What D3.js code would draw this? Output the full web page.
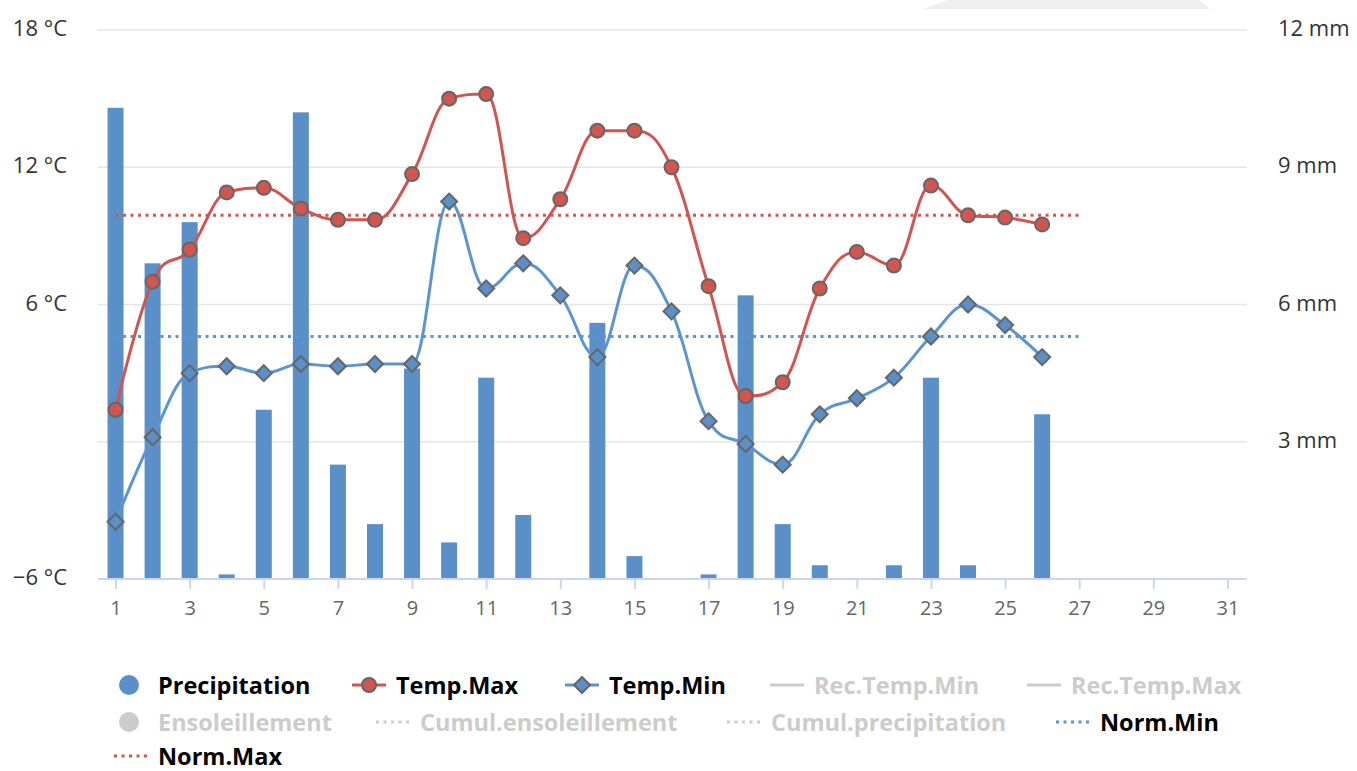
<!DOCTYPE html>
<html>
<head>
<meta charset="utf-8">
<script src="https://cdn.jsdelivr.net/npm/d3@7"></script>
<style>
  html, body { margin: 0; padding: 0; background: #fff; }
  svg { display: block; }
  text { font-family: "Open Sans", "DejaVu Sans", sans-serif; }
</style>
</head>
<body>
<svg id="chart" width="1357" height="771"></svg>
<script>
// ---------- DATA ----------
const days = [1,2,3,4,5,6,7,8,9,10,11,12,13,14,15,16,17,18,19,20,21,22,23,24,25,26,27,28,29,30,31];
const dataDays = [1,2,3,4,5,6,7,8,9,10,11,12,13,14,15,16,17,18,19,20,21,22,23,24,25,26];
const precipitation = [10.3, 6.9, 7.8, 0.1, 3.7, 10.2, 2.5, 1.2, 4.6, 0.8, 4.4, 1.4, 0, 5.6, 0.5, 0, 0.1, 6.2, 1.2, 0.3, 0, 0.3, 4.4, 0.3, 0, 3.6];
const tempMax = [1.4, 7.0, 8.4, 10.9, 11.1, 10.2, 9.7, 9.7, 11.7, 15.0, 15.2, 8.9, 10.6, 13.6, 13.6, 12.0, 6.8, 2.0, 2.6, 6.7, 8.3, 7.7, 11.2, 9.9, 9.8, 9.5];
const tempMin = [-3.5, 0.2, 3.0, 3.3, 3.0, 3.4, 3.3, 3.4, 3.4, 10.5, 6.7, 7.8, 6.4, 3.7, 7.7, 5.7, 0.9, -0.1, -1.0, 1.2, 1.9, 2.8, 4.6, 6.0, 5.1, 3.7];
const normDays = [1, 27];
const normMax = [9.9, 9.9];
const normMin = [4.6, 4.6];
const xTickDays = [1,3,5,7,9,11,13,15,17,19,21,23,25,27,29,31];
const tempTicks = [18, 12, 6, 0, -6];
const tempTickLabels = ["18 °C", "12 °C", "6 °C", "", "\u22126 °C"];
const precipTicks = [12, 9, 6, 3, 0];
const precipTickLabels = ["12 mm", "9 mm", "6 mm", "3 mm", ""];
const legendRows = [
  [ {name:"Precipitation", type:"circle", color:"#5b8fc7", active:true},
    {name:"Temp.Max", type:"lineCircle", color:"#cf5650", active:true},
    {name:"Temp.Min", type:"lineDiamond", color:"#5b94cf", active:true},
    {name:"Rec.Temp.Min", type:"line", color:"#cccccc", active:false},
    {name:"Rec.Temp.Max", type:"line", color:"#cccccc", active:false} ],
  [ {name:"Ensoleillement", type:"circle", color:"#cccccc", active:false},
    {name:"Cumul.ensoleillement", type:"dot", color:"#cccccc", active:false},
    {name:"Cumul.precipitation", type:"dot", color:"#cccccc", active:false},
    {name:"Norm.Min", type:"dot", color:"#5b94cf", active:true} ],
  [ {name:"Norm.Max", type:"dot", color:"#cf5650", active:true} ]
];
const legendX = [[114, 352, 565, 770, 1027], [114, 376, 727, 1056], [114]];

// ---------- LAYOUT ----------
const svg = d3.select("#chart");
const plotL = 98, plotR = 1247, plotT = 30, plotB = 579;

const x = d3.scaleLinear().domain([0.5, 31.5]).range([97, 1246]);
const yT = d3.scaleLinear().domain([-6, 18]).range([plotB, plotT]);
const yP = d3.scaleLinear().domain([0, 12]).range([plotB, plotT]);

// decorative tab at top
svg.append("path")
  .attr("d", "M923,9 L948,0 L1200,0 L1210,9 Z")
  .attr("fill", "#efefef");

// gridlines
svg.append("g").selectAll("line").data(tempTicks.filter(t => t > -6)).join("line")
  .attr("x1", plotL).attr("x2", plotR)
  .attr("y1", d => yT(d)).attr("y2", d => yT(d))
  .attr("stroke", "#e6e6e6").attr("stroke-width", 1.6);

// left axis labels
const leftAxis = d3.axisLeft(yT).tickValues(tempTicks).tickSize(0).tickPadding(0)
  .tickFormat((d, i) => tempTickLabels[i]);
const gL = svg.append("g").attr("transform", `translate(67,0)`).call(leftAxis);
gL.select(".domain").remove();
gL.selectAll("text").attr("font-size", 22).attr("fill", "#333").attr("dy", "0.25em")
  .style("font-family", '"Open Sans", sans-serif');

// right axis labels
const rightAxis = d3.axisRight(yP).tickValues(precipTicks).tickSize(0).tickPadding(0)
  .tickFormat((d, i) => precipTickLabels[i]);
const gR = svg.append("g").attr("transform", `translate(1278,0)`).call(rightAxis);
gR.select(".domain").remove();
gR.selectAll("text").attr("font-size", 22).attr("fill", "#333").attr("dy", "0.25em")
  .style("font-family", '"Open Sans", sans-serif');

// bars
const barW = 16;
svg.append("g").selectAll("rect").data(dataDays.map((d, i) => ({d, v: precipitation[i]})).filter(o => o.v > 0))
  .join("rect")
  .attr("x", o => x(o.d) - barW / 2)
  .attr("width", barW)
  .attr("y", o => yP(o.v))
  .attr("height", o => yP(0) - yP(o.v))
  .attr("fill", "#5b8fc7");

// x axis
const bottomAxis = d3.axisBottom(x).tickValues(xTickDays).tickSize(10).tickPadding(12)
  .tickFormat(d3.format("d"));
const gX = svg.append("g").attr("transform", `translate(0,${plotB})`).call(bottomAxis);
gX.select(".domain").attr("d", `M${plotL},0H${plotR}`).attr("stroke", "#ccd6eb").attr("stroke-width", 2);
gX.selectAll(".tick line").attr("stroke", "#ccd6eb").attr("stroke-width", 2);
gX.selectAll("text").attr("font-size", 20).attr("fill", "#666")
  .style("font-family", '"Open Sans", sans-serif');

// norm lines
function normLine(vals, color) {
  svg.append("path")
    .attr("d", d3.line().x((d, i) => x(normDays[i])).y(d => yT(d))(vals))
    .attr("fill", "none").attr("stroke", color).attr("stroke-width", 3)
    .attr("stroke-dasharray", "3,4.5");
}
normLine(normMin, "#5b94cf");
normLine(normMax, "#cf5650");

// Highcharts-style spline
function splinePath(pts) {
  const smoothing = 1.5, denom = smoothing + 1;
  const ctl = pts.map((p, i) => {
    if (i === 0 || i === pts.length - 1) return {lx: p[0], ly: p[1], rx: p[0], ry: p[1]};
    const [lastX, lastY] = pts[i - 1], [nextX, nextY] = pts[i + 1], [px, py] = p;
    let lx = (smoothing * px + lastX) / denom, ly = (smoothing * py + lastY) / denom;
    let rx = (smoothing * px + nextX) / denom, ry = (smoothing * py + nextY) / denom;
    if (rx !== lx) {
      const corr = ((ry - ly) * (rx - px)) / (rx - lx) + py - ry;
      ly += corr; ry += corr;
    }
    if (ly > lastY && ly > py) { ly = Math.max(lastY, py); ry = 2 * py - ly; }
    else if (ly < lastY && ly < py) { ly = Math.min(lastY, py); ry = 2 * py - ly; }
    if (ry > nextY && ry > py) { ry = Math.max(nextY, py); ly = 2 * py - ry; }
    else if (ry < nextY && ry < py) { ry = Math.min(nextY, py); ly = 2 * py - ry; }
    return {lx, ly, rx, ry};
  });
  const p = d3.path();
  p.moveTo(pts[0][0], pts[0][1]);
  for (let i = 1; i < pts.length; i++) {
    p.bezierCurveTo(ctl[i - 1].rx, ctl[i - 1].ry, ctl[i].lx, ctl[i].ly, pts[i][0], pts[i][1]);
  }
  return p.toString();
}

function tempSeries(vals, color, markerFill, shape) {
  const pts = vals.map((v, i) => [x(dataDays[i]), yT(v)]);
  svg.append("path").attr("d", splinePath(pts))
    .attr("fill", "none").attr("stroke", color).attr("stroke-width", 3)
    .attr("stroke-linejoin", "round").attr("stroke-linecap", "round");
  const g = svg.append("g");
  if (shape === "circle") {
    g.selectAll("circle").data(pts).join("circle")
      .attr("cx", d => d[0]).attr("cy", d => d[1]).attr("r", 7)
      .attr("fill", markerFill).attr("stroke", "#666").attr("stroke-width", 2);
  } else {
    g.selectAll("path").data(pts).join("path")
      .attr("d", d => `M${d[0]},${d[1] - 8}L${d[0] + 8},${d[1]}L${d[0]},${d[1] + 8}L${d[0] - 8},${d[1]}Z`)
      .attr("fill", markerFill).attr("stroke", "#666").attr("stroke-width", 2);
  }
}
tempSeries(tempMax, "#cf5650", "#d2564f", "circle");
tempSeries(tempMin, "#5b94cf", "#5b8fc7", "diamond");

// legend
const rowY = [685, 722, 756];
legendRows.forEach((row, r) => {
  row.forEach((it, k) => {
    const sx = legendX[r][k], cy = rowY[r];
    const g = svg.append("g");
    if (it.type === "circle") {
      g.append("circle").attr("cx", sx + 15).attr("cy", cy).attr("r", 10).attr("fill", it.color);
    } else {
      g.append("line").attr("x1", sx).attr("x2", sx + 34).attr("y1", cy).attr("y2", cy)
        .attr("stroke", it.color).attr("stroke-width", 3)
        .attr("stroke-dasharray", it.type === "dot" ? "3,4.5" : null);
      if (it.type === "lineCircle") {
        g.append("circle").attr("cx", sx + 17).attr("cy", cy).attr("r", 7)
          .attr("fill", "#d2564f").attr("stroke", "#666").attr("stroke-width", 2);
      } else if (it.type === "lineDiamond") {
        const c = sx + 17;
        g.append("path").attr("d", `M${c},${cy - 8}L${c + 8},${cy}L${c},${cy + 8}L${c - 8},${cy}Z`)
          .attr("fill", "#5b8fc7").attr("stroke", "#666").attr("stroke-width", 2);
      }
    }
    g.append("text").attr("x", sx + 44).attr("y", cy + 8.5)
      .attr("font-size", 23.5).attr("font-weight", "bold")
      .attr("fill", it.active ? "#000" : "#cccccc")
      .text(it.name);
  });
});
</script>
</body>
</html>
